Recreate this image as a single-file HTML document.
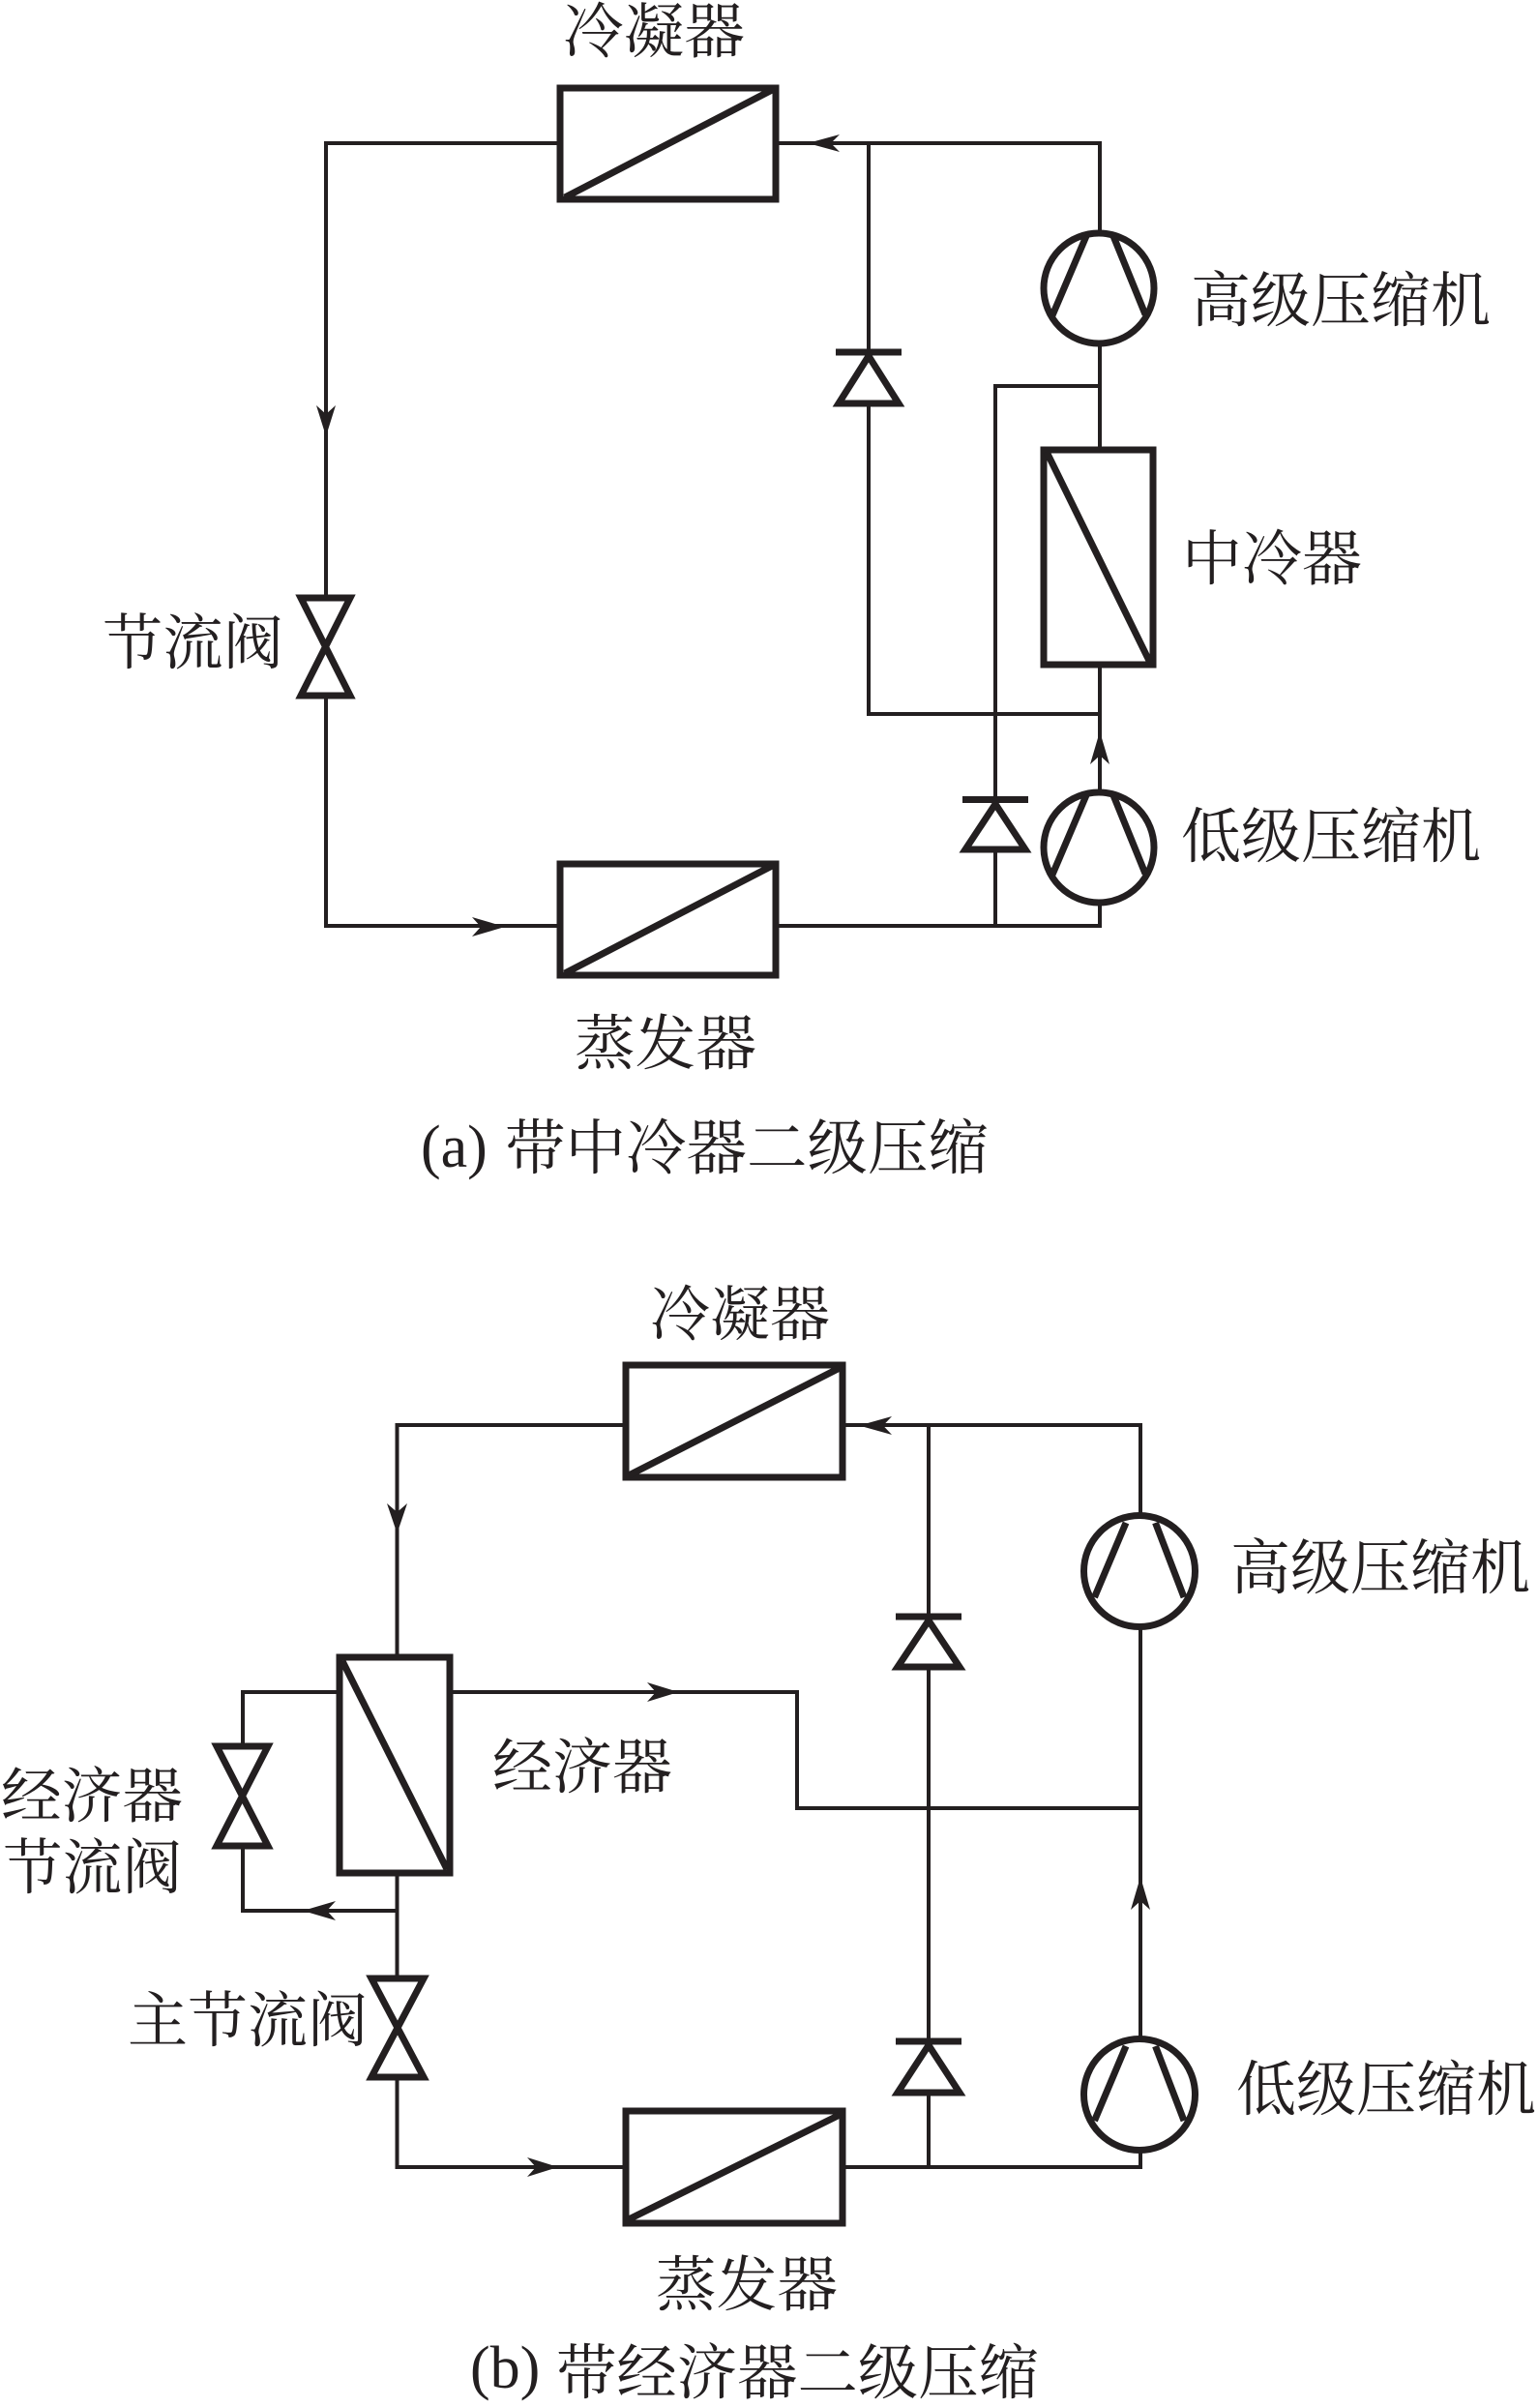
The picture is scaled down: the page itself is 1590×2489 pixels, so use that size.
<!DOCTYPE html>
<html>
<head>
<meta charset="utf-8">
<style>
html,body{margin:0;padding:0;background:#fff;width:1590px;height:2489px;overflow:hidden}
svg{display:block}
text{font-family:"Liberation Serif","Noto Serif CJK SC",serif;font-size:62px;fill:#231f20}
.l{fill:none;stroke:#231f20;stroke-width:4}
.h{fill:#fff;stroke:#231f20;stroke-width:7}
.t{fill:none;stroke:#231f20;stroke-width:7}
.a{fill:#231f20;stroke:none}
</style>
</head>
<body>
<svg xmlns="http://www.w3.org/2000/svg" width="1590" height="2489" viewBox="0 0 1590 2489">
<rect width="1590" height="2489" fill="#fff"/>

<!-- (a) connectors -->
<path class="l" d="M579 148H337V957H579"/>
<path class="l" d="M802 148H1137V240"/>
<path class="l" d="M898 148V738H1137"/>
<path class="l" d="M1137 356V464"/>
<path class="l" d="M1137 399H1029V957"/>
<path class="l" d="M1137 688V818"/>
<path class="l" d="M802 957H1137V934"/>

<!-- (a) condenser -->
<rect class="h" x="579" y="91" width="223" height="115"/>
<path class="t" d="M584 204L800 92"/>
<!-- (a) evaporator -->
<rect class="h" x="579" y="893" width="223" height="115"/>
<path class="t" d="M584 1006L800 894"/>
<!-- (a) intercooler -->
<rect class="h" x="1079" y="465" width="113" height="222"/>
<path class="t" d="M1082 467L1189 685"/>
<!-- (a) compressors -->
<circle class="h" cx="1136" cy="298" r="57"/>
<path class="t" d="M1123 244L1088 326M1151 244L1184 325"/>
<circle class="h" cx="1136" cy="876" r="57"/>
<path class="t" d="M1123 822L1088 904M1151 822L1184 903"/>
<!-- (a) check valves -->
<path class="t" d="M864 364H932"/>
<path class="h" d="M898 368L867 417H929Z"/>
<path class="t" d="M995 826.5H1063"/>
<path class="h" d="M1029 831L998 878H1060Z"/>
<!-- (a) throttle -->
<path class="h" d="M311 618H362L311 719H362Z"/>
<!-- (a) arrows -->
<polygon class="a" points="337,451 327,419 337,428 347,419"/>
<polygon class="a" points="835,148 868,139 859,148 868,157"/>
<polygon class="a" points="522,958 488,948 497,958 488,968"/>
<polygon class="a" points="1137,756 1127,790 1137,781 1147,790"/>

<!-- (b) connectors -->
<path class="l" d="M647 1473H410.5V1712"/>
<path class="l" d="M871 1473H1179V1566"/>
<path class="l" d="M960 1473V2240"/>
<path class="l" d="M1179 1682V2107"/>
<path class="l" d="M465 1749H824V1869H1179"/>
<path class="l" d="M351 1749H251V1975H410.5"/>
<path class="l" d="M410.5 1937V2240H647"/>
<path class="l" d="M871 2240H1179V2223"/>

<!-- (b) condenser -->
<rect class="h" x="647" y="1411" width="224" height="116"/>
<path class="t" d="M650 1525L868 1414"/>
<!-- (b) evaporator -->
<rect class="h" x="647" y="2182" width="224" height="116"/>
<path class="t" d="M650 2294L868 2186"/>
<!-- (b) economizer -->
<rect class="h" x="351" y="1713" width="114" height="223"/>
<path class="t" d="M354 1717L462 1932"/>
<!-- (b) compressors -->
<circle class="h" cx="1178" cy="1624" r="57.5"/>
<path class="t" d="M1164 1574L1131.5 1651M1194.5 1574L1224 1651"/>
<circle class="h" cx="1178" cy="2165" r="57.5"/>
<path class="t" d="M1164 2115L1131.5 2192M1194.5 2115L1224 2192"/>
<!-- (b) check valves -->
<path class="t" d="M926 1671H994"/>
<path class="h" d="M960 1675L928 1723H992Z"/>
<path class="t" d="M926 2110H994"/>
<path class="h" d="M960 2114L928 2163H992Z"/>
<!-- (b) throttles -->
<path class="h" d="M224 1805H277L224 1908H277Z"/>
<path class="h" d="M384 2045H438L384 2147H438Z"/>
<!-- (b) arrows -->
<polygon class="a" points="410.5,1585 400,1554 410.5,1563 421,1554"/>
<polygon class="a" points="888,1473.5 922,1464 913,1473.5 922,1483"/>
<polygon class="a" points="701.5,1749 669,1739 678,1749 669,1759"/>
<polygon class="a" points="313,1975 347,1965 338,1975 347,1985"/>
<polygon class="a" points="577,2240 545,2230 554,2240 545,2250"/>
<polygon class="a" points="1179,1940 1169,1974 1179,1965 1189,1974"/>

<!-- labels (a) -->
<text x="582" y="54" textLength="188" lengthAdjust="spacingAndGlyphs">冷凝器</text>
<text x="1231" y="332" textLength="310" lengthAdjust="spacingAndGlyphs">高级压缩机</text>
<text x="1222" y="599" textLength="186" lengthAdjust="spacingAndGlyphs">中冷器</text>
<text x="106" y="686" textLength="187" lengthAdjust="spacingAndGlyphs">节流阀</text>
<text x="1221" y="886" textLength="310" lengthAdjust="spacingAndGlyphs">低级压缩机</text>
<text x="594" y="1100" textLength="188" lengthAdjust="spacingAndGlyphs">蒸发器</text>
<text x="435" y="1206">(a)</text>
<text x="522" y="1208" textLength="500" lengthAdjust="spacingAndGlyphs">带中冷器二级压缩</text>

<!-- labels (b) -->
<text x="672" y="1380" textLength="186" lengthAdjust="spacingAndGlyphs">冷凝器</text>
<text x="1272" y="1642" textLength="310" lengthAdjust="spacingAndGlyphs">高级压缩机</text>
<text x="509" y="1848" textLength="186" lengthAdjust="spacingAndGlyphs">经济器</text>
<text x="1" y="1878" textLength="188" lengthAdjust="spacingAndGlyphs">经济器</text>
<text x="3" y="1952" textLength="185" lengthAdjust="spacingAndGlyphs">节流阀</text>
<text x="132" y="2110" textLength="248" lengthAdjust="spacingAndGlyphs">主节流阀</text>
<text x="1278" y="2181" textLength="310" lengthAdjust="spacingAndGlyphs">低级压缩机</text>
<text x="678" y="2383" textLength="188" lengthAdjust="spacingAndGlyphs">蒸发器</text>
<text x="486" y="2468">(b)</text>
<text x="575" y="2474" textLength="499" lengthAdjust="spacingAndGlyphs">带经济器二级压缩</text>
</svg>
</body>
</html>
